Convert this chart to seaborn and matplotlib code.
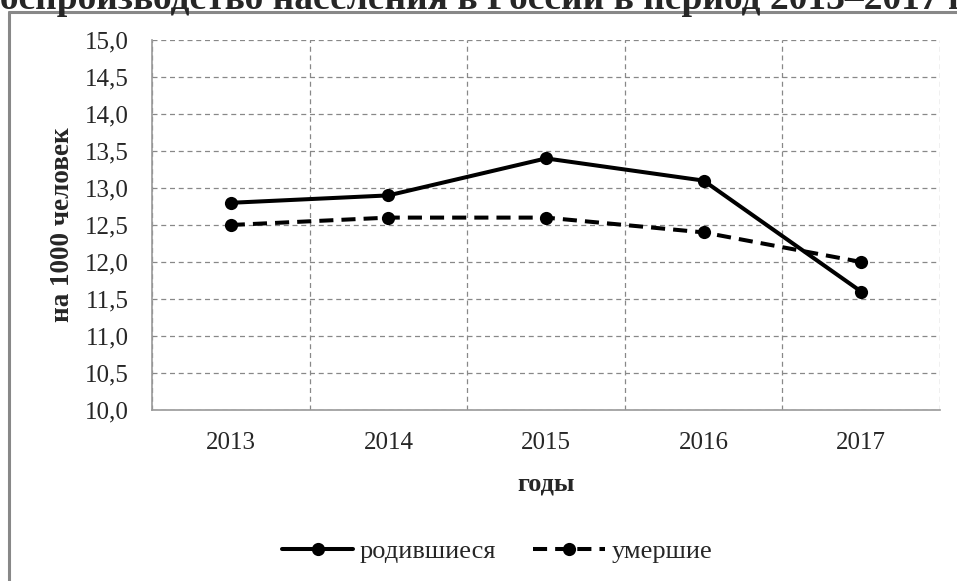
import matplotlib
matplotlib.use("Agg")
import matplotlib.pyplot as plt
from matplotlib.lines import Line2D
import pandas as pd
import seaborn as sns

# данные с графика (на 1000 человек)
years = ["2013", "2014", "2015", "2016", "2017"]
born = [12.8, 12.9, 13.4, 13.1, 11.6]
died = [12.5, 12.6, 12.6, 12.4, 12.0]
series_names = ["родившиеся", "умершие"]
y_ticks = [10.0, 10.5, 11.0, 11.5, 12.0, 12.5, 13.0, 13.5, 14.0, 14.5, 15.0]

title = "Воспроизводство населения в России в период 2013–2017 гг."

sns.set_theme(style="white")
plt.rcParams["font.family"] = ["Liberation Serif", "DejaVu Serif"]

df = pd.DataFrame({
    "idx": list(range(len(years))) * 2,
    "value": born + died,
    "series": [series_names[0]] * len(years) + [series_names[1]] * len(years),
})

W, H = 957, 581
fig = plt.figure(figsize=(W / 100, H / 100), dpi=100)
ax = fig.add_axes([152 / W, 1 - 410 / H, (940 - 152) / W, (410 - 40) / H])

sns.lineplot(
    data=df, x="idx", y="value", style="series", ax=ax,
    color="black", linewidth=2.9, sort=False,
    dashes={series_names[0]: "", series_names[1]: (3.5, 2)},
    markers={series_names[0]: "o", series_names[1]: "o"},
    markersize=9.5, markeredgewidth=0, legend=False,
)

# оси
ax.set_xlim(-0.5, len(years) - 0.5)
ax.set_ylim(y_ticks[0], y_ticks[-1])
ax.set_yticks(y_ticks)
ax.set_yticklabels([f"{v:.1f}".replace(".", ",") for v in y_ticks], fontsize=18)
ax.set_xticks([i - 0.5 for i in range(len(years) + 1)])
ax.set_xticklabels([])
ax.set_xticks(range(len(years)), minor=True)
ax.set_xticklabels(years, minor=True, fontsize=18)
ax.tick_params(axis="x", which="major", direction="out", length=6.5, color="#888888", width=1)
ax.tick_params(axis="x", which="minor", length=0, pad=16)
ax.tick_params(axis="y", direction="out", length=6.5, color="#888888", width=1, pad=10)
ax.grid(True, which="major", color="#888888", linestyle=(0, (4, 3)), linewidth=0.9)

for side in ["top", "right"]:
    ax.spines[side].set_visible(False)
for side in ["left", "bottom"]:
    ax.spines[side].set_color("#999999")
    ax.spines[side].set_linewidth(1.2)

ax.set_xlabel("годы", fontsize=19, fontweight="bold", labelpad=13)
ax.set_ylabel("на 1000 человек", fontsize=19.5, fontweight="bold", labelpad=7)

# легенда
handles = [
    Line2D([], [], color="black", lw=2.9, marker="o", markersize=9.5, markeredgewidth=0),
    Line2D([], [], color="black", lw=2.9, linestyle=(0, (3.5, 2)), marker="o",
           markersize=9.5, markeredgewidth=0),
]
fig.legend(handles, series_names, loc="center", bbox_to_anchor=(497 / W, 1 - 551 / H),
           ncol=2, frameon=False, fontsize=19, handlelength=2.7, handletextpad=0.25,
           columnspacing=1.4, borderpad=0)

# рамка области диаграммы (обрезана)
fig.add_artist(Line2D([9 / W, 9 / W], [0, 1 - 12 / H], color="#888888", lw=2.2))
fig.add_artist(Line2D([9 / W, 1], [1 - 12 / H, 1 - 12 / H], color="#888888", lw=2.2))

# заголовок, обрезанный сверху
fig.text(481 / W, 1 - 9 / H, title, ha="center", va="baseline",
         fontsize=27, fontweight="bold")

fig.savefig("out.png", dpi=100)
